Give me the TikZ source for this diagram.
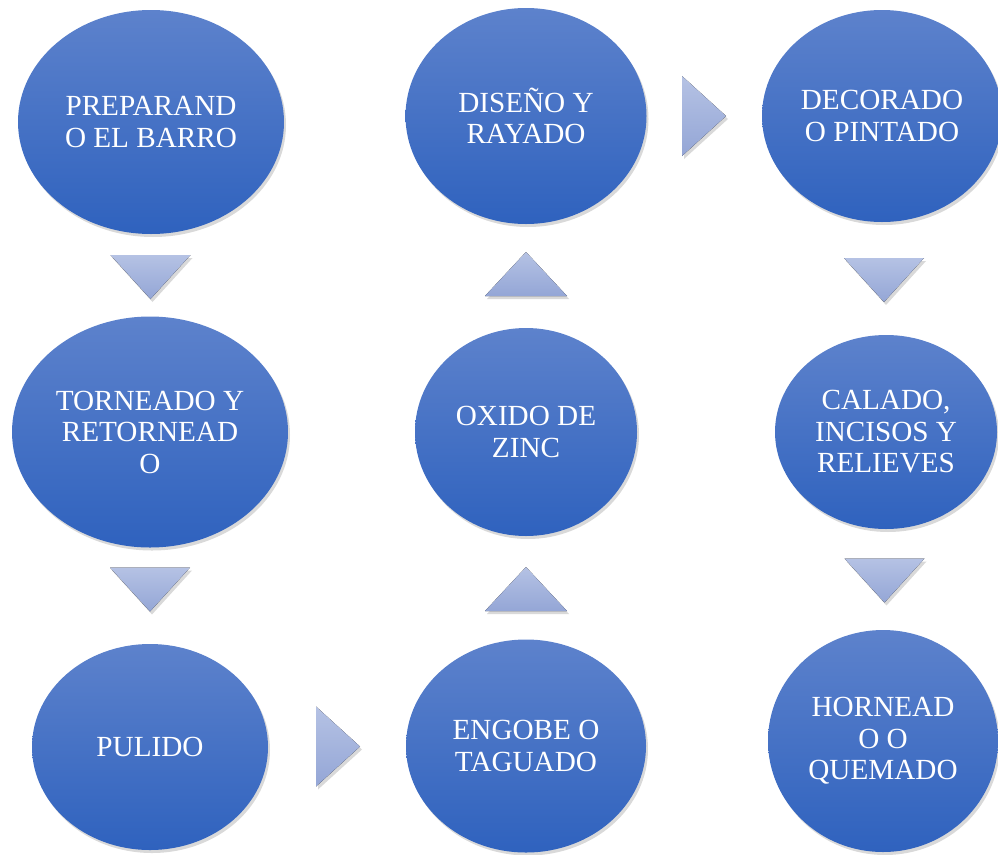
\documentclass[tikz,border=0pt]{standalone}
\usepackage{fontspec}
\setmainfont{Liberation Serif}
\usetikzlibrary{shapes.geometric,shadows,calc}

\definecolor{pasotop}{HTML}{5D82CC}
\definecolor{pasobot}{HTML}{2F62BE}
\definecolor{flechatop}{HTML}{B5C2E4}
\definecolor{flechabot}{HTML}{94A6D6}

\tikzset{
    paso/.style={ellipse, inner sep=0pt, top color=pasotop, bottom color=pasobot,
        text=white, align=center, font=\fontsize{29.2}{31.5}\selectfont,
        drop shadow={opacity=0.3, shadow xshift=2pt, shadow yshift=-3pt}},
    flecha/.style={top color=flechatop, bottom color=flechabot,
        drop shadow={opacity=0.3, shadow xshift=2pt, shadow yshift=-3pt}}
}

\begin{document}
\begin{tikzpicture}[x=1pt, y=-1pt]
            \useasboundingbox (0,0) rectangle (998,854);

            \node[paso, minimum width=266pt, minimum height=224pt] (prep) at (151, 122) {PREPARAND\\O EL BARRO};
            \node[paso, minimum width=276pt, minimum height=231pt] (torn) at (150, 432) {TORNEADO Y\\RETORNEAD\\O};
            \node[paso, minimum width=236pt, minimum height=206pt] (pul) at (150, 747) {PULIDO};
            \node[paso, minimum width=240pt, minimum height=213pt] (eng) at (526, 746) {ENGOBE O\\TAGUADO};
            \node[paso, minimum width=222pt, minimum height=208pt] (oxi) at (526, 432) {OXIDO DE\\ZINC};
            \node[paso, minimum width=241pt, minimum height=216pt] (dis) at (526, 116) {DISEÑO Y\\RAYADO};
            \node[paso, minimum width=240pt, minimum height=212pt] (dec) at (882, 116) {DECORADO\\O PINTADO};
            \node[paso, minimum width=222pt, minimum height=194pt] (cal) at (886, 432) {CALADO,\\INCISOS Y\\RELIEVES};
            \node[paso, minimum width=230pt, minimum height=222pt] (horn) at (883, 741) {HORNEAD\\O O\\QUEMADO};

            % flechas entre pasos
            \coordinate (f1) at ($(prep)!0.5!(torn)$);
            \coordinate (f2) at ($(torn)!0.5!(pul)$);
            \coordinate (f3) at ($(pul)!0.5!(eng)$);
            \coordinate (f4) at ($(eng)!0.5!(oxi)$);
            \coordinate (f5) at ($(oxi)!0.5!(dis)$);
            \coordinate (f6) at ($(dis)!0.5!(dec)$);
            \coordinate (f7) at ($(dec)!0.5!(cal)+(0,6)$);
            \coordinate (f8) at ($(cal)!0.5!(horn)+(0,-6)$);

            \fill[flecha] ($(f1)+(-40,-22)$) -- ($(f1)+(40,-22)$) -- ($(f1)+(0,22)$) -- cycle;
            \fill[flecha] ($(f2)+(-40,-22)$) -- ($(f2)+(40,-22)$) -- ($(f2)+(0,22)$) -- cycle;
            \fill[flecha] ($(f3)+(-22,-40)$) -- ($(f3)+(22,0)$) -- ($(f3)+(-22,40)$) -- cycle;
            \fill[flecha] ($(f4)+(-41,22)$) -- ($(f4)+(41,22)$) -- ($(f4)+(0,-22)$) -- cycle;
            \fill[flecha] ($(f5)+(-41,22)$) -- ($(f5)+(41,22)$) -- ($(f5)+(0,-22)$) -- cycle;
            \fill[flecha] ($(f6)+(-22,-40)$) -- ($(f6)+(22,0)$) -- ($(f6)+(-22,40)$) -- cycle;
            \fill[flecha] ($(f7)+(-40,-22)$) -- ($(f7)+(40,-22)$) -- ($(f7)+(0,22)$) -- cycle;
            \fill[flecha] ($(f8)+(-40,-22)$) -- ($(f8)+(40,-22)$) -- ($(f8)+(0,22)$) -- cycle;
\end{tikzpicture}
\end{document}
